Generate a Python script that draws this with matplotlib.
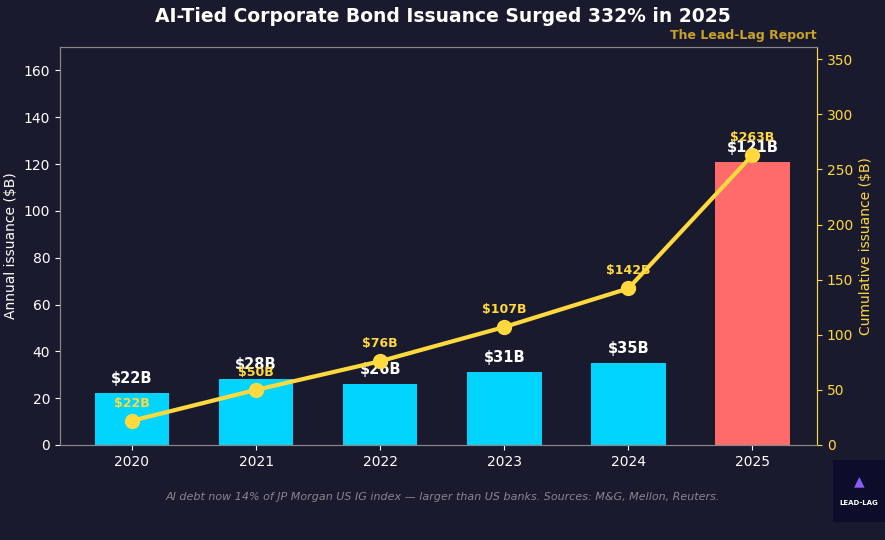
import matplotlib
matplotlib.use("Agg")
import matplotlib.pyplot as plt

years = ["2020", "2021", "2022", "2023", "2024", "2025"]
annual = [22, 28, 26, 31, 35, 121]
cumulative = [22, 50, 76, 107, 142, 263]
bar_colors = ["#00d4ff", "#00d4ff", "#00d4ff", "#00d4ff", "#00d4ff", "#ff6b6b"]

BG = "#1a1a2e"
GOLD = "#ffd93d"

fig = plt.figure(figsize=(8.85, 5.4), dpi=100, facecolor=BG)
ax = fig.add_axes([60/885, 1-445/540, (817-60)/885, (445-47)/540])
ax.set_facecolor(BG)
x = list(range(len(years)))
ax.bar(x, annual, width=0.6, color=bar_colors, zorder=2)
ax.set_xticks(x)
ax.set_xticklabels(years)
ax.set_ylim(0, 170)
ax.set_xlim(-0.58, 5.52)
for xi, v in zip(x, annual):
    ax.text(xi, v + 3, f"${v}B", ha="center", va="bottom", color="white",
            fontsize=10.5, fontweight="bold", zorder=5)
ax.set_ylabel("Annual issuance ($B)", color="white", fontsize=10)
ax.tick_params(colors="white", labelsize=10)
for s in ["left", "bottom", "top", "right"]:
    ax.spines[s].set_color("#888888")

ax2 = ax.twinx()
ax2.plot(x, cumulative, color=GOLD, lw=3, marker="o", markersize=10, zorder=4)
ax2.set_ylim(0, 361)
for xi, v in zip(x, cumulative):
    ax2.text(xi, v + 10, f"${v}B", ha="center", va="bottom", color=GOLD,
             fontsize=9, fontweight="bold", zorder=5)
ax2.set_ylabel("Cumulative issuance ($B)", color=GOLD, fontsize=10)
ax2.tick_params(axis="y", colors=GOLD, labelsize=10)
ax2.spines["right"].set_color(GOLD)
for s in ["left", "bottom", "top"]:
    ax2.spines[s].set_color("#888888")

fig.text(0.5, 1-17/540, "AI-Tied Corporate Bond Issuance Surged 332% in 2025",
         ha="center", va="center", color="white", fontsize=13.5, fontweight="bold")
fig.text(817/885, 1-35/540, "The Lead-Lag Report", ha="right", va="center",
         color="#c9a227", fontsize=9, fontweight="bold")
fig.text(0.5, 1-497/540,
         "AI debt now 14% of JP Morgan US IG index \u2014 larger than US banks. Sources: M&G, Mellon, Reuters.",
         ha="center", va="center", color="#888888", fontsize=8, style="italic")

logo = fig.add_axes([833/885, 1-522/540, 52/885, 62/540])
logo.set_facecolor("#0b0d2a")
logo.set_xticks([]); logo.set_yticks([])
for s in logo.spines.values():
    s.set_visible(False)
logo.text(0.5, 0.3, "LEAD-LAG", ha="center", va="center", color="white",
          fontsize=5, fontweight="bold")
logo.text(0.5, 0.65, "\u25b2", ha="center", va="center", color="#8a5cf6", fontsize=10)

fig.savefig("out.png", dpi=100, facecolor=BG)
